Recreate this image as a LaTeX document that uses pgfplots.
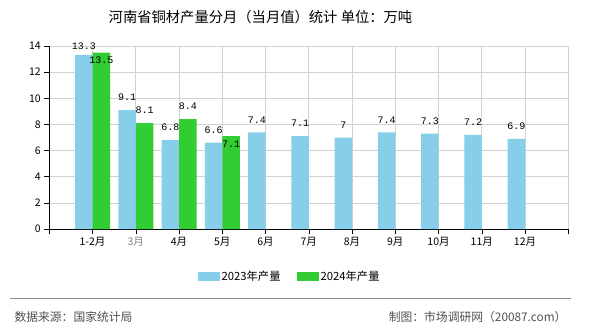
\documentclass[border=0pt]{standalone}
\usepackage{fontspec}
\usepackage{pgfplots}
\pgfplotsset{compat=1.18}
\setmainfont{Noto Sans CJK SC}
\newfontfamily\monofont{Liberation Mono}
\definecolor{c23}{RGB}{135,206,235}
\definecolor{c24}{RGB}{50,205,50}
\definecolor{gridc}{RGB}{210,210,210}
\definecolor{foot}{RGB}{80,80,80}

\pgfplotstableread{
x y dy
1 13.3 9
2 9.1 12.5
3 6.8 12.5
4 6.6 12.5
5 7.4 12.5
6 7.1 12.5
7 7.0 12.5
8 7.4 12.5
9 7.3 12.5
10 7.2 12.5
11 6.9 12.5
}\dataA
\pgfplotstableread{
x y dy
1 13.5 -8
2 8.1 12.5
3 8.4 12.5
4 7.1 -8
}\dataB

\begin{document}
\begin{tikzpicture}[x=1pt,y=1pt]
\useasboundingbox (0,0) rectangle (590,330);
\node[font=\fontsize{14.3}{16}\selectfont] at (260.5,312.5) {河南省铜材产量分月（当月值）统计 单位：万吨};
\begin{axis}[
  at={(49.3pt,101pt)}, anchor=south west,
  scale only axis, width=519pt, height=183pt,
  xmin=0, xmax=12, ymin=0, ymax=14,
  axis x line*=bottom, axis y line*=left,
  axis line style={black,-},
  tick align=outside, major tick length=5pt,
  tick style={black, line width=0.6pt},
  xtick={0,1,...,12},
  xticklabels={,1-2月,{\color{gray}3月},4月,5月,6月,7月,8月,9月,10月,11月,12月,},
  ytick={0,2,...,14},
  grid=major, major grid style={gridc, line width=0.7pt},
  ybar=0pt, bar width=17.5pt,
  /pgf/number format/assume math mode=true,
  tick label style={font=\fontsize{10.5}{12}\selectfont},
  nodes near coords,
  visualization depends on={\thisrow{dy} \as \dy},
  every node near coord/.append style={anchor=center, yshift=\dy pt, font=\monofont\fontsize{10}{12}\selectfont, black},
  legend style={at={(0.463,-0.262)}, anchor=center, draw=none, fill=none,
    legend columns=2, font=\fontsize{11.3}{13}\selectfont,
    /tikz/every even column/.append style={column sep=14pt}},
  legend image code/.code={\fill[#1, draw=none] (0pt,-4.5pt) rectangle (22pt,4.5pt);},
]
\addplot[fill=c23, draw=none] table[x=x,y=y] {\dataA};
\addplot[fill=c24, draw=none] table[x=x,y=y] {\dataB};
\legend{2023年产量,2024年产量}
\end{axis}
\draw[gray!90, line width=0.8pt] (10,32) -- (571,32);
\node[anchor=west, font=\fontsize{11.8}{13}\selectfont, text=foot] at (11,13) {数据来源：国家统计局};
\node[anchor=east, font=\fontsize{11.8}{13}\selectfont, text=foot] at (570,13) {制图：市场调研网（20087.com）};
\end{tikzpicture}
\end{document}
